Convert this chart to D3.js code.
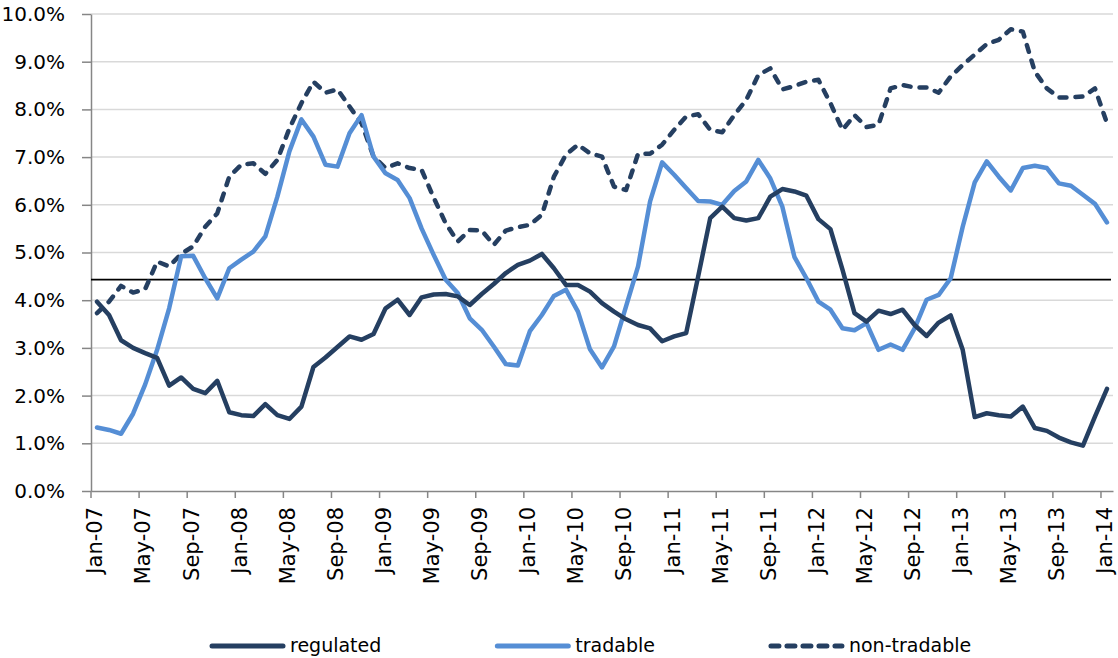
<!DOCTYPE html>
<html>
<head>
<meta charset="utf-8">
<script src="https://cdn.jsdelivr.net/npm/d3@7"></script>
<style>
  body { margin: 0; background: #fff; }
  text { font-family: "DejaVu Sans", sans-serif; fill: #000; }
</style>
</head>
<body>
<svg id="chart"></svg>
<script>
const width = 1118;
const height = 658;

// tick labels on the x axis (every 4th month)
const tickLabels = ["Jan-07", "May-07", "Sep-07", "Jan-08", "May-08", "Sep-08",
  "Jan-09", "May-09", "Sep-09", "Jan-10", "May-10", "Sep-10", "Jan-11", "May-11",
  "Sep-11", "Jan-12", "May-12", "Sep-12", "Jan-13", "May-13", "Sep-13", "Jan-14"];

// y ticks (percent)
const yTicks = [0, 1, 2, 3, 4, 5, 6, 7, 8, 9, 10];

// reference level (black line)
const refLevel = 4.43;

// series, monthly Jan-07 .. Jan-14 (percent)
const regulated = [
  3.97, 3.69, 3.16, 3.00, 2.89, 2.79, 2.21, 2.38, 2.14, 2.05,
  2.31, 1.65, 1.59, 1.57, 1.82, 1.59, 1.51, 1.77, 2.60, 2.80,
  3.02, 3.24, 3.17, 3.29, 3.83, 4.01, 3.69, 4.06, 4.12, 4.13,
  4.08, 3.90, 4.13, 4.34, 4.57, 4.74, 4.83, 4.97, 4.67, 4.32,
  4.32, 4.18, 3.94, 3.76, 3.60, 3.48, 3.41, 3.14, 3.24, 3.31,
  4.50, 5.72, 5.96, 5.72, 5.67, 5.72, 6.17, 6.33, 6.28, 6.19,
  5.70, 5.49, 4.64, 3.73, 3.55, 3.78, 3.71, 3.80, 3.48, 3.25,
  3.53, 3.68, 2.96, 1.55, 1.63, 1.59, 1.56, 1.77, 1.32, 1.26,
  1.12, 1.02, 0.95, 1.56, 2.14];

const tradable = [
  1.33, 1.28, 1.20, 1.62, 2.23, 2.96, 3.83, 4.92, 4.93, 4.46,
  4.04, 4.67, 4.85, 5.02, 5.34, 6.17, 7.12, 7.79, 7.43, 6.84,
  6.80, 7.50, 7.88, 7.01, 6.66, 6.52, 6.14, 5.50, 4.95, 4.43,
  4.15, 3.62, 3.38, 3.03, 2.66, 2.63, 3.35, 3.69, 4.09, 4.22,
  3.76, 2.97, 2.59, 3.03, 3.87, 4.71, 6.07, 6.89, 6.63, 6.35,
  6.08, 6.07, 6.00, 6.29, 6.49, 6.94, 6.55, 5.96, 4.91, 4.46,
  3.97, 3.80, 3.41, 3.37, 3.52, 2.96, 3.07, 2.96, 3.41, 4.01,
  4.11, 4.46, 5.54, 6.47, 6.91, 6.59, 6.30, 6.77, 6.82, 6.77,
  6.45, 6.40, 6.21, 6.02, 5.63];

const nonTradable = [
  3.73, 3.97, 4.30, 4.16, 4.23, 4.81, 4.71, 4.97, 5.13, 5.54,
  5.82, 6.59, 6.84, 6.87, 6.65, 6.94, 7.60, 8.13, 8.58, 8.35,
  8.42, 8.06, 7.71, 7.01, 6.77, 6.87, 6.77, 6.73, 6.15, 5.61,
  5.23, 5.47, 5.46, 5.16, 5.46, 5.53, 5.58, 5.79, 6.59, 7.05,
  7.26, 7.08, 7.01, 6.38, 6.31, 7.07, 7.07, 7.26, 7.57, 7.85,
  7.90, 7.57, 7.52, 7.88, 8.20, 8.72, 8.86, 8.42, 8.49, 8.58,
  8.62, 8.13, 7.57, 7.88, 7.63, 7.68, 8.44, 8.51, 8.46, 8.46,
  8.35, 8.69, 8.93, 9.15, 9.37, 9.46, 9.68, 9.63, 8.79, 8.44,
  8.25, 8.25, 8.27, 8.44, 7.71];

const margin = { top: 14, right: 5, bottom: 167, left: 91 };
const plotRight = width - margin.right;
const plotBottom = height - margin.bottom;

const navy = "#253f61";
const lightBlue = "#558ed5";

// monthly categories
const fmt = d3.timeFormat("%b-%y");
const months = d3.timeMonth.range(new Date(2007, 0, 1), new Date(2014, 1, 1)).map(fmt);

const svg = d3.select("#chart").attr("width", width).attr("height", height);
svg.append("rect").attr("width", width).attr("height", height).attr("fill", "#fff");

// scales
const x = d3.scaleBand().domain(months).range([margin.left, plotRight]).padding(0);
const y = d3.scaleLinear().domain([0, 10]).range([plotBottom, margin.top]);
const cx = (d, i) => x(months[i]) + x.bandwidth() / 2;

// gridlines
svg.append("g")
  .selectAll("line")
  .data(yTicks.slice(1))
  .join("line")
  .attr("x1", margin.left)
  .attr("x2", plotRight)
  .attr("y1", d => y(d))
  .attr("y2", d => y(d))
  .attr("stroke", "#d9d9d9")
  .attr("stroke-width", 1.5);

// y axis
const yAxisCall = d3.axisLeft(y)
  .tickValues(yTicks)
  .tickSize(9)
  .tickPadding(17)
  .tickSizeOuter(0)
  .tickFormat(d => d.toFixed(1) + "%");
const gy = svg.append("g")
  .attr("transform", `translate(${margin.left}, 0)`)
  .call(yAxisCall);
gy.select(".domain").attr("stroke", "#868686").attr("stroke-width", 1.5);
gy.selectAll(".tick line").attr("stroke", "#868686").attr("stroke-width", 1.5);
gy.selectAll("text").attr("font-size", "20px").attr("font-family", "DejaVu Sans");

// x axis: ticks on category boundaries, labels rotated
const xAxisCall = d3.axisBottom(x)
  .tickValues(tickLabels)
  .tickSize(7)
  .tickSizeOuter(0);
const gx = svg.append("g")
  .attr("transform", `translate(0, ${plotBottom})`)
  .call(xAxisCall);
gx.select(".domain").attr("stroke", "#868686").attr("stroke-width", 1.5);
gx.selectAll(".tick line")
  .attr("stroke", "#868686")
  .attr("stroke-width", 1.5)
  .attr("x1", -x.bandwidth() / 2)
  .attr("x2", -x.bandwidth() / 2);
gx.selectAll(".tick text")
  .attr("font-size", "21px")
  .attr("font-family", "DejaVu Sans")
  .attr("text-anchor", "end")
  .attr("transform", `translate(-2, 16) rotate(-90)`)
  .attr("x", 0)
  .attr("y", 0)
  .attr("dy", "0.35em");

// reference line
svg.append("line")
  .attr("x1", margin.left)
  .attr("x2", plotRight - 2)
  .attr("y1", y(refLevel))
  .attr("y2", y(refLevel))
  .attr("stroke", "#000")
  .attr("stroke-width", 1.8);

// series lines
const series = [
  { name: "regulated", values: regulated, color: navy, dash: null },
  { name: "tradable", values: tradable, color: lightBlue, dash: null },
  { name: "non-tradable", values: nonTradable, color: navy, dash: "7,9" },
];

const line = d3.line().x(cx).y(d => y(d));

svg.append("g")
  .selectAll("path")
  .data([series[2], series[1], series[0]])
  .join("path")
  .attr("d", d => line(d.values))
  .attr("fill", "none")
  .attr("stroke", d => d.color)
  .attr("stroke-width", 4.5)
  .attr("stroke-linejoin", "round")
  .attr("stroke-linecap", "round")
  .attr("stroke-dasharray", d => d.dash);

// legend
const legendY = 646;
const legend = svg.append("g");
let lx = 212;
series.forEach(s => {
  const item = legend.append("g").attr("transform", `translate(${lx}, ${legendY})`);
  item.append("line")
    .attr("x1", 0).attr("x2", 71)
    .attr("stroke", s.color)
    .attr("stroke-width", 5)
    .attr("stroke-linecap", "round")
    .attr("stroke-dasharray", s.dash ? "8,8" : null);
  const t = item.append("text")
    .attr("x", 78)
    .attr("y", 6)
    .attr("font-size", "19px")
    .text(s.name);
  lx += 78 + t.node().getComputedTextLength() + 116;
});
</script>
</body>
</html>
